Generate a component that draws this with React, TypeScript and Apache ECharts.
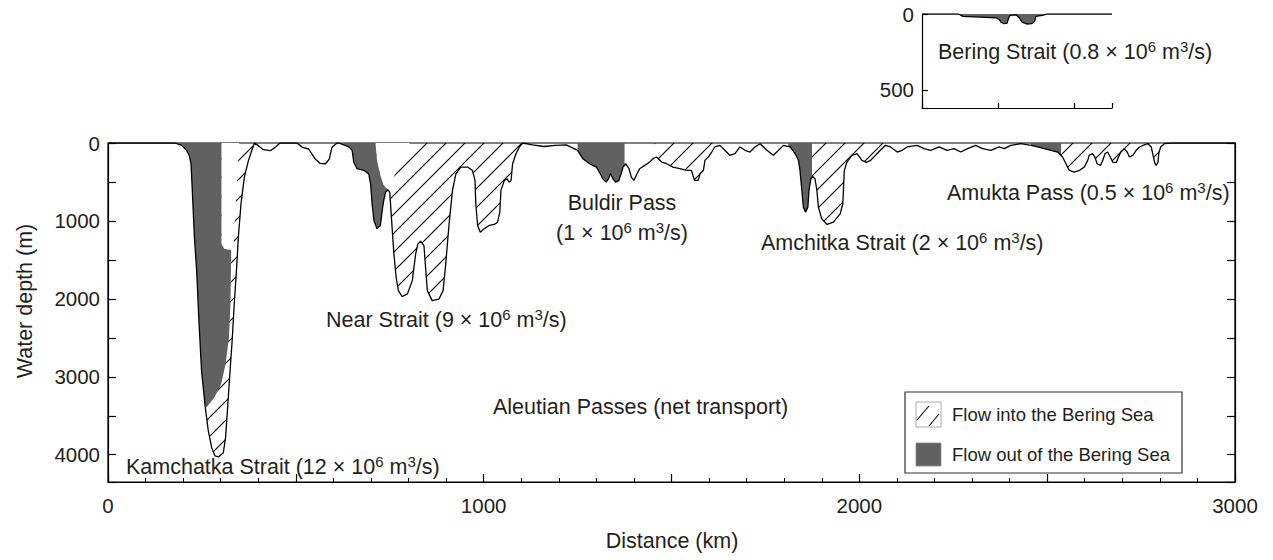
import React, { useEffect, useRef } from 'react';
import * as echarts from 'echarts';

const FONT = '"Liberation Sans", Arial, Helvetica, sans-serif';
const INK = '#231f20';
const OUTFLOW = '#616161';

// Bathymetric profile along the Aleutian arc: [distance (km), water depth (m)]
const bathymetry: [number, number][] = [
  [0, 0], [178, 0], [196, 30], [209, 94], [216, 158], [221, 266], [224, 566], [230, 1209],
  [236, 1637], [242, 2280], [249, 2923], [258, 3352], [267, 3695], [276, 3909], [285, 4016],
  [294, 4029], [307, 3974], [313, 3781], [319, 3352], [325, 2923], [331, 2495], [336, 2066],
  [342, 1637], [347, 1209], [354, 780], [363, 437], [374, 223], [383, 94], [390, 0],
  [400, 34], [414, 86], [432, 99], [445, 56], [458, 0], [503, 0], [518, 56], [534, 77],
  [552, 206], [565, 262], [579, 266], [589, 206], [596, 56], [610, 0], [614, 0], [641, 51],
  [650, 94], [654, 244], [663, 330], [681, 351], [694, 395], [699, 523], [703, 780],
  [708, 994], [716, 1102], [725, 1058], [730, 866], [734, 737], [739, 630], [745, 600],
  [750, 630], [755, 994], [761, 1423], [767, 1723], [773, 1894], [783, 1971], [797, 1937],
  [810, 1766], [819, 1423], [825, 1295], [832, 1260], [841, 1316], [846, 1637], [850, 1894],
  [863, 2023], [881, 2002], [892, 1894], [899, 1552], [908, 1037], [917, 608], [926, 395],
  [939, 309], [957, 309], [970, 351], [977, 480], [979, 780], [984, 1058], [991, 1145],
  [1001, 1102], [1015, 1058], [1028, 1045], [1037, 1016], [1043, 887], [1046, 608],
  [1055, 480], [1062, 459], [1068, 502], [1073, 480], [1077, 266], [1086, 137], [1095, 51],
  [1104, 0], [1130, 25], [1160, 45], [1190, 30], [1220, 25], [1250, 94], [1264, 201],
  [1282, 266], [1300, 309], [1308, 373], [1317, 459], [1326, 502], [1332, 459], [1338, 395],
  [1344, 459], [1351, 502], [1360, 480], [1366, 395], [1371, 309], [1378, 266], [1387, 330],
  [1393, 437], [1400, 480], [1406, 416], [1415, 330], [1429, 287], [1442, 244], [1451, 201],
  [1460, 180], [1474, 244], [1487, 266], [1504, 309], [1522, 330], [1540, 351], [1553, 351],
  [1557, 416], [1562, 480], [1571, 480], [1576, 395], [1585, 351], [1589, 223], [1598, 180],
  [1607, 116], [1615, 51], [1629, 30], [1642, 94], [1655, 158], [1669, 137], [1682, 51],
  [1696, 94], [1709, 116], [1722, 51], [1736, 9], [1754, 94], [1771, 158], [1785, 94],
  [1798, 30], [1816, 51], [1829, 137], [1838, 223], [1842, 351], [1847, 608], [1851, 823],
  [1857, 887], [1863, 823], [1866, 608], [1871, 459], [1876, 428], [1882, 459], [1887, 608],
  [1891, 823], [1900, 973], [1914, 1045], [1931, 1016], [1949, 909], [1956, 780], [1958, 566],
  [1960, 351], [1967, 244], [1980, 158], [1994, 137], [2007, 223], [2019, 249], [2030, 223],
  [2043, 158], [2056, 94], [2070, 30], [2083, 51], [2101, 116], [2114, 94], [2127, 51],
  [2154, 30], [2172, 73], [2190, 94], [2212, 51], [2234, 94], [2252, 73], [2270, 116],
  [2288, 73], [2310, 30], [2328, 73], [2350, 94], [2372, 51], [2386, 73], [2403, 30],
  [2430, 9], [2457, 30], [2474, 51], [2492, 73], [2510, 94], [2528, 116], [2541, 180],
  [2550, 266], [2559, 351], [2572, 373], [2586, 351], [2599, 309], [2608, 223], [2612, 158],
  [2621, 137], [2627, 180], [2633, 266], [2642, 287], [2648, 223], [2654, 137], [2661, 116],
  [2668, 180], [2675, 249], [2684, 249], [2690, 180], [2696, 116], [2705, 73], [2713, 116],
  [2719, 180], [2728, 158], [2737, 94], [2746, 51], [2755, 30], [2768, 9], [2777, 51],
  [2781, 137], [2786, 249], [2790, 287], [2795, 249], [2797, 137], [2802, 51], [2812, 9],
  [2830, 0], [3000, 0],
];

// Distance spans where flow enters the Bering Sea (hatched beneath the profile)
const inflowRanges: [number, number][] = [
  [178, 392], [712, 1104], [1455, 1620], [1874, 2065], [2537, 2800],
];

// Distance spans where flow leaves the Bering Sea (filled beneath the profile)
const outflowRanges: [number, number][] = [[1250, 1375], [1811, 1874], [2457, 2537]];

// Inner edges of the outflow cores in Kamchatka and Near straits
const kamchatkaOutflowEdge: [number, number][] = [
  [262, 3395], [283, 3266], [301, 3095], [313, 2838], [322, 2495], [326, 2066],
  [328, 1372], [310, 1359], [302, 1295], [302, 0],
];
const nearOutflowEdge: [number, number][] = [[734, 544], [725, 416], [716, 223], [712, 0]];

// Still water wedges between the outflow and inflow cores
const kamchatkaStill: [number, number][] = [
  [302, 0], [349, 0], [334, 1340], [328, 1372], [310, 1359], [302, 1295],
];
const nearStill: [number, number][] = [
  [712, 0], [716, 223], [725, 416], [734, 544], [745, 600], [803, 0],
];

// Bering Strait cross-section: [distance (km), depth (m)]
const beringProfile: [number, number][] = [
  [0, 0], [24, 0], [27, 16], [38, 20], [49, 26], [51, 38], [52, 55], [54, 64], [56, 60],
  [57, 26], [58, 9], [62, 5], [64, 26], [66, 55], [69, 66], [72, 64], [74, 49], [75, 16],
  [80, 7], [82, 0], [125, 0],
];
const beringOutflowRange: [number, number] = [24, 82];

// Net transport through each pass (10^6 m^3/s)
const passNames = ['Kamchatka Strait', 'Near Strait', 'Buldir Pass', 'Amchitka Strait', 'Amukta Pass', 'Bering Strait'];
const passTransport = ['12', '9', '1', '2', '0.5', '0.8'];

const depthTicks = [0, 1000, 2000, 3000, 4000];
const distanceTicks = [0, 1000, 2000, 3000];

function depthAt(profile: [number, number][], x: number): number {
  for (let i = 1; i < profile.length; i++) {
    const [x0, y0] = profile[i - 1];
    const [x1, y1] = profile[i];
    if (x >= x0 && x <= x1) {
      if (x1 === x0) return y1;
      return y0 + ((x - x0) / (x1 - x0)) * (y1 - y0);
    }
  }
  return 0;
}

// Region between the sea surface and the profile over a distance span
function underProfile(profile: [number, number][], [a, b]: [number, number]): [number, number][] {
  const pts: [number, number][] = [[a, 0], [a, depthAt(profile, a)]];
  profile.forEach((p) => {
    if (p[0] > a && p[0] < b) pts.push(p);
  });
  pts.push([b, depthAt(profile, b)], [b, 0]);
  return pts;
}

const HATCH = 19;
const hatchSvg =
  `<svg xmlns="http://www.w3.org/2000/svg" width="${HATCH}" height="${HATCH}">` +
  `<path d="M-2,${HATCH + 2} L${HATCH + 2},-2 M-2,2 L2,-2 M${HATCH - 2},${HATCH + 2} L${HATCH + 2},${HATCH - 2}" ` +
  `stroke="#000" stroke-width="1.1" fill="none"/></svg>`;
const hatchFill = {
  image: 'data:image/svg+xml;charset=utf-8,' + encodeURIComponent(hatchSvg),
  repeat: 'repeat',
  imageWidth: HATCH,
  imageHeight: HATCH,
};

function polygonSeries(polys: [number, number][][], fill: any, xAxisIndex: number, yAxisIndex: number, z: number) {
  return {
    type: 'custom',
    xAxisIndex,
    yAxisIndex,
    z,
    silent: true,
    data: polys.map((p, i) => [p[0][0], p[0][1], i]),
    renderItem: (params: any, api: any) => {
      const poly = polys[params.dataIndex];
      return {
        type: 'polygon',
        shape: { points: poly.map((p) => api.coord(p)) },
        style: { fill, stroke: null },
      };
    },
  };
}

const LABEL_SIZE = 21.5;

const rich = {
  n: { fontSize: LABEL_SIZE, fontFamily: FONT, fill: INK, lineHeight: 26 },
  s: { fontSize: 15, fontFamily: FONT, fill: INK, lineHeight: 14, verticalAlign: 'top' },
};

function transportText(name: string, value: string, withName = true): string {
  const head = withName ? `${name} (` : '(';
  return `{n|${head}${value} × 10}{s|6}{n| m}{s|3}{n|/s)}`;
}

function richLabel(text: string, x: number, y: number, align = 'left') {
  return {
    type: 'text',
    x,
    y,
    z: 100,
    silent: true,
    style: { text, rich, fill: INK, font: `${LABEL_SIZE}px ${FONT}`, align, verticalAlign: 'middle' },
  };
}

function plainLabel(text: string, x: number, y: number, size: number, align = 'left', rotation = 0) {
  return {
    type: 'text',
    x,
    y,
    rotation,
    z: 100,
    silent: true,
    style: { text, fill: INK, font: `${size}px ${FONT}`, fontSize: size, fontFamily: FONT, align, verticalAlign: 'middle' },
  };
}

function buildOption() {
  const kamchatkaOutflow: [number, number][] = [
    ...bathymetry.filter((p) => p[0] >= 178 && p[0] <= 259),
    ...kamchatkaOutflowEdge,
  ];
  const nearOutflow: [number, number][] = [
    ...bathymetry.filter((p) => p[0] >= 614 && p[0] <= 745),
    ...nearOutflowEdge,
  ];

  const inflowPolys = inflowRanges.map((r) => underProfile(bathymetry, r));
  const outflowPolys = [kamchatkaOutflow, nearOutflow, ...outflowRanges.map((r) => underProfile(bathymetry, r))];
  const stillPolys = [kamchatkaStill, nearStill];
  const beringPolys = [underProfile(beringProfile, beringOutflowRange)];

  const axisLineStyle = { color: '#000', width: 1.2 };
  const tickLabel = { fontSize: 20.5, fontFamily: FONT, color: INK };

  const legendX = 905;
  const legendY = 392;

  return {
    animation: false,
    backgroundColor: '#fff',
    grid: [
      { left: 108, right: 38, top: 143, bottom: 78, show: true, borderColor: '#000', borderWidth: 1.2 },
      { left: 922, width: 190, top: 14, height: 94 },
    ],
    xAxis: [
      {
        type: 'value', gridIndex: 0, min: 0, max: 3000, interval: 500,
        axisLine: { show: true, onZero: false, lineStyle: axisLineStyle },
        axisTick: { show: true, inside: true, length: 8, lineStyle: axisLineStyle },
        minorTick: { show: true, splitNumber: 5, length: 4, lineStyle: { color: '#000', width: 1 } },
        axisLabel: {
          ...tickLabel, margin: 13,
          formatter: (v: number) => (distanceTicks.includes(v) ? String(v) : ''),
        },
        splitLine: { show: false },
      },
      {
        type: 'value', gridIndex: 1, min: 0, max: 125, interval: 50,
        axisLine: { show: true, onZero: false, lineStyle: axisLineStyle },
        axisTick: { show: true, inside: true, length: 5, lineStyle: axisLineStyle },
        axisLabel: { show: false },
        splitLine: { show: false },
      },
    ],
    yAxis: [
      {
        type: 'value', gridIndex: 0, inverse: true, min: 0, max: 4350, interval: 500,
        axisLine: { show: true, onZero: false, lineStyle: axisLineStyle },
        axisTick: { show: true, inside: true, length: 8, lineStyle: axisLineStyle },
        axisLabel: {
          ...tickLabel, margin: 8,
          formatter: (v: number) => (depthTicks.includes(v) ? String(v) : ''),
        },
        splitLine: { show: false },
      },
      {
        type: 'value', gridIndex: 0, position: 'right', inverse: true, min: 0, max: 4350, interval: 500,
        axisLine: { show: true, onZero: false, lineStyle: axisLineStyle },
        axisTick: { show: true, inside: true, length: 8, lineStyle: axisLineStyle },
        axisLabel: { show: false },
        splitLine: { show: false },
      },
      {
        type: 'value', gridIndex: 1, inverse: true, min: 0, max: 620, interval: 500,
        axisLine: { show: true, onZero: false, lineStyle: axisLineStyle },
        axisTick: { show: true, inside: true, length: 6, lineStyle: axisLineStyle },
        axisLabel: {
          ...tickLabel, margin: 8,
          formatter: (v: number) => (v % 500 === 0 ? String(v) : ''),
        },
        splitLine: { show: false },
      },
    ],
    series: [
      polygonSeries(inflowPolys, hatchFill, 0, 0, 1),
      polygonSeries(stillPolys, '#fff', 0, 0, 2),
      polygonSeries(outflowPolys, OUTFLOW, 0, 0, 3),
      {
        type: 'line', xAxisIndex: 0, yAxisIndex: 0, z: 5, silent: true,
        data: bathymetry, symbol: 'none', showSymbol: false,
        lineStyle: { color: '#000', width: 1.3 },
      },
      polygonSeries(beringPolys, OUTFLOW, 1, 2, 3),
      {
        type: 'line', xAxisIndex: 1, yAxisIndex: 2, z: 5, silent: true,
        data: beringProfile, symbol: 'none', showSymbol: false,
        lineStyle: { color: '#000', width: 1.3 },
      },
    ],
    graphic: [
      richLabel(transportText(passNames[0], passTransport[0]), 126, 467),
      richLabel(transportText(passNames[1], passTransport[1]), 326, 320),
      plainLabel(passNames[2], 622, 203, LABEL_SIZE, 'center'),
      richLabel(transportText(passNames[2], passTransport[2], false), 622, 233, 'center'),
      richLabel(transportText(passNames[3], passTransport[3]), 761, 243),
      richLabel(transportText(passNames[4], passTransport[4]), 947, 193),
      richLabel(transportText(passNames[5], passTransport[5]), 938, 52),
      plainLabel('Aleutian Passes (net transport)', 493, 407, LABEL_SIZE),
      plainLabel('Water depth (m)', 25, 301, 21.5, 'center', Math.PI / 2),
      plainLabel('Distance (km)', 672, 541, 21.5, 'center'),
      {
        type: 'rect', z: 90, silent: true,
        shape: { x: legendX, y: legendY, width: 277, height: 81 },
        style: { fill: '#fff', stroke: '#333', lineWidth: 1.2 },
      },
      {
        type: 'rect', z: 91, silent: true,
        shape: { x: legendX + 11, y: legendY + 10, width: 25, height: 25 },
        style: { fill: '#fff', stroke: '#aaa', lineWidth: 1 },
      },
      {
        type: 'line', z: 92, silent: true,
        shape: { x1: legendX + 12, y1: legendY + 28, x2: legendX + 24, y2: legendY + 14 },
        style: { stroke: '#000', lineWidth: 1.1 },
      },
      {
        type: 'line', z: 92, silent: true,
        shape: { x1: legendX + 24, y1: legendY + 34, x2: legendX + 34, y2: legendY + 22 },
        style: { stroke: '#000', lineWidth: 1.1 },
      },
      {
        type: 'rect', z: 91, silent: true,
        shape: { x: legendX + 11, y: legendY + 51, width: 25, height: 23 },
        style: { fill: OUTFLOW, stroke: '#888', lineWidth: 0.8 },
      },
      plainLabel('Flow into the Bering Sea', legendX + 47, legendY + 22, 18.5),
      plainLabel('Flow out of the Bering Sea', legendX + 47, legendY + 62, 18.5),
    ],
  };
}

export default function App() {
  const ref = useRef<HTMLDivElement>(null);
  useEffect(() => {
    if (!ref.current) return;
    const chart = echarts.init(ref.current, null, { renderer: 'svg' });
    chart.setOption(buildOption() as any);
    return () => chart.dispose();
  }, []);
  return (
    <div
      ref={ref}
      style={{ position: 'fixed', left: 0, top: 0, width: 1273, height: 560, background: '#fff' }}
    />
  );
}
